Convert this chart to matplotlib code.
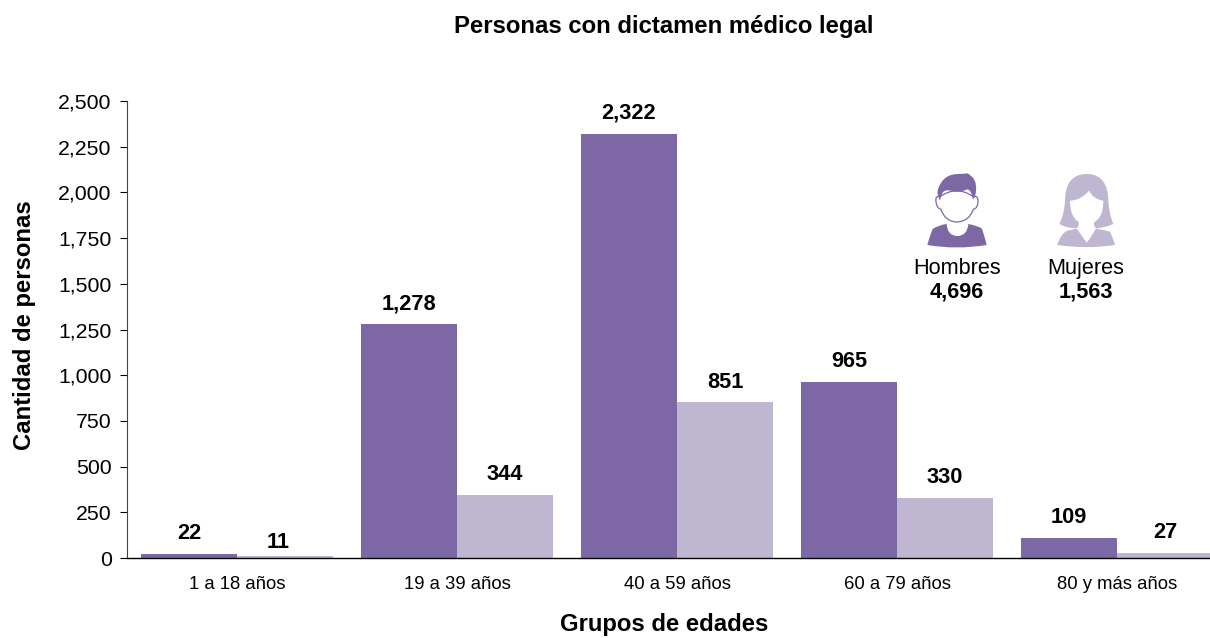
import matplotlib
matplotlib.use("Agg")
import matplotlib.pyplot as plt
from matplotlib.path import Path
from matplotlib.patches import PathPatch
from matplotlib.ticker import FuncFormatter

plt.rcParams['font.family'] = ['Liberation Sans', 'DejaVu Sans']

categories = ['1 a 18 años', '19 a 39 años', '40 a 59 años', '60 a 79 años', '80 y más años']
hombres = [22, 1278, 2322, 965, 109]
mujeres = [11, 344, 851, 330, 27]
total_hombres = 4696
total_mujeres = 1563
DARK = '#7d68a5'
LIGHT = '#bfb6d2'
INK = '#000000'

W, H = 1210, 638
fig = plt.figure(figsize=(W/100, H/100), dpi=100)
ax = fig.add_axes([127/W, 1-558/H, (W-127)/W, (558-101)/H])

x = list(range(len(categories)))
bw = 96/220
ax.bar([i-bw/2 for i in x], hombres, bw, color=DARK)
ax.bar([i+bw/2 for i in x], mujeres, bw, color=LIGHT)
ax.set_xlim(-0.5, (W-237)/220)
ax.set_ylim(0, 2500)
ax.set_yticks(range(0, 2501, 250))
ax.yaxis.set_major_formatter(FuncFormatter(lambda v, p: f'{int(v):,}'))
ax.set_xticks(x)
ax.set_xticklabels(categories, fontsize=13.3)
ax.tick_params(axis='x', length=0, pad=13, colors=INK)
ax.tick_params(axis='y', length=5, width=0.8, labelsize=15.3, pad=6, colors=INK)
for s in ['top', 'right']:
    ax.spines[s].set_visible(False)
ax.spines['left'].set_color('#444444')
ax.spines['left'].set_linewidth(0.8)
ax.spines['bottom'].set_color(INK)
ax.spines['bottom'].set_linewidth(1)

for i in x:
    ax.annotate(f'{hombres[i]:,}', (i-bw/2, hombres[i]), xytext=(0, 7), textcoords='offset points',
                ha='center', va='bottom', fontsize=15.7, fontweight='bold', color=INK)
    small = mujeres[i] <= 11
    ax.annotate(f'{mujeres[i]:,}', (i+bw/2, mujeres[i]), xytext=(-5 if small else 0, 2 if small else 7),
                textcoords='offset points',
                ha='center', va='bottom', fontsize=15.7, fontweight='bold', color=INK)

def ftext(px, py, s, **kw):
    fig.text(px/W, 1-py/H, s, ha='center', va='center', color=INK, **kw)

ftext(664, 26, 'Personas con dictamen médico legal', fontsize=17.2, fontweight='bold')
ftext(664, 625, 'Grupos de edades', fontsize=17.2, fontweight='bold')
ftext(25, 325, 'Cantidad de personas', fontsize=17.2, fontweight='bold', rotation=90)
ftext(957, 269, 'Hombres', fontsize=15.6)
ftext(957, 292, f'{total_hombres:,}', fontsize=15.7, fontweight='bold')
ftext(1086, 269, 'Mujeres', fontsize=15.6)
ftext(1086, 292, f'{total_mujeres:,}', fontsize=15.7, fontweight='bold')

# Pictogram overlay, in pixels of the zoomed crop
ov = fig.add_axes([0, 0, 1, 1], facecolor='none')
ov.set_xlim(0, W); ov.set_ylim(H, 0); ov.axis('off')

def shape(pts, fc, ec='none', lw=0):
    verts = [(890+a/3, 160+b/3) for a, b in pts]
    codes = [Path.MOVETO] + [Path.CURVE3]*(len(verts)-1)
    ov.add_patch(PathPatch(Path(verts, codes), fc=fc, ec=ec, lw=lw))

# man: shoulders with neck gap, face, hair
shape([(112,255),(120,225),(128,207),(145,195),(170,192),(172,228),(202,228),(232,228),(235,192),
       (262,197),(275,205),(283,225),(290,255),(200,270),(112,255)], DARK)
shape([(150,110),(135,105),(138,125),(140,145),(153,148),(165,185),(200,186),(238,185),(250,148),
       (265,145),(264,120),(262,105),(250,110),(200,75),(150,110)], 'white', DARK, 0.9)
shape([(150,122),(138,100),(145,85),(160,42),(205,42),(225,42),(232,40),(262,55),(258,90),(258,110),(248,118),
       (245,90),(232,88),(210,98),(190,94),(165,86),(158,98),(152,110),(150,122)], DARK)
# woman: hair, shoulders, neck, face
shape([(508,192),(522,165),(525,125),(525,42),(590,42),(655,42),(655,125),(658,165),(670,192),
       (640,205),(615,205),(590,205),(565,205),(530,205),(508,192)], LIGHT)
shape([(502,255),(512,222),(530,213),(548,208),(565,205),(578,232),(590,247),(605,232),(615,205),
       (640,210),(660,215),(668,232),(675,255),(590,268),(502,255)], LIGHT)
shape([(565,175),(567,190),(566,196),(564,200),(560,205),(575,228),(590,247),(605,228),(618,205),
       (613,200),(612,195),(612,185),(613,175),(590,175),(565,175)], 'white')
shape([(540,122),(575,120),(597,92),(610,118),(640,122),(640,190),(590,192),(540,190),(540,122)], 'white')

fig.savefig('out.png', dpi=100)
